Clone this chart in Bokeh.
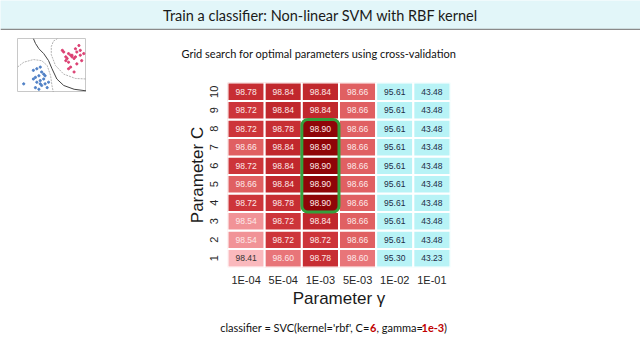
import numpy as np
from bokeh.plotting import figure
from bokeh.models import ColumnDataSource, LinearColorMapper, FixedTicker, Range1d, Spacer, LinearAxis
from bokeh.layouts import column, row
from bokeh.core.properties import value
from bokeh.embed import file_html
from bokeh.resources import INLINE

# ---------------- data ----------------
title_text = "Train a classifier: Non-linear SVM with RBF kernel"
subtitle_text = "Grid search for optimal parameters using cross-validation"
gamma_labels = ["1E-04", "5E-04", "1E-03", "5E-03", "1E-02", "1E-01"]
C_values = [1, 2, 3, 4, 5, 6, 7, 8, 9, 10]

acc_C01 = [98.41, 98.60, 98.78, 98.60, 95.30, 43.23]
acc_C02 = [98.54, 98.72, 98.72, 98.66, 95.61, 43.48]
acc_C03 = [98.54, 98.72, 98.84, 98.66, 95.61, 43.48]
acc_C04 = [98.72, 98.78, 98.90, 98.66, 95.61, 43.48]
acc_C05 = [98.66, 98.84, 98.90, 98.66, 95.61, 43.48]
acc_C06 = [98.72, 98.84, 98.90, 98.66, 95.61, 43.48]
acc_C07 = [98.66, 98.84, 98.90, 98.66, 95.61, 43.48]
acc_C08 = [98.72, 98.78, 98.90, 98.66, 95.61, 43.48]
acc_C09 = [98.72, 98.84, 98.84, 98.66, 95.61, 43.48]
acc_C10 = [98.78, 98.84, 98.84, 98.66, 95.61, 43.48]
acc_rows = [acc_C01, acc_C02, acc_C03, acc_C04, acc_C05,
            acc_C06, acc_C07, acc_C08, acc_C09, acc_C10]

# thumbnail (decision-boundary sketch), unit square coordinates
red_x = [0.65, 0.67, 0.74, 0.77, 0.79, 0.82, 0.72, 0.70, 0.74, 0.84, 0.86, 0.89,
         0.91, 0.93, 0.86, 0.77, 0.74, 0.70, 0.79, 0.84, 0.91, 0.96, 0.82]
red_y = [0.78, 0.75, 0.72, 0.69, 0.66, 0.63, 0.63, 0.59, 0.56, 0.81, 0.75, 0.87,
         0.69, 0.59, 0.53, 0.47, 0.44, 0.66, 0.69, 0.66, 0.78, 0.72, 0.38]
blue_x = [0.23, 0.28, 0.33, 0.35, 0.31, 0.26, 0.38, 0.33, 0.28, 0.40, 0.35, 0.43,
          0.31, 0.23, 0.38, 0.45, 0.09, 0.26, 0.40, 0.33]
blue_y = [0.41, 0.44, 0.47, 0.38, 0.31, 0.28, 0.25, 0.22, 0.19, 0.16, 0.13, 0.09,
          0.06, 0.25, 0.34, 0.19, 0.16, 0.09, 0.31, 0.16]
boundary_x = [0.23, 0.26, 0.31, 0.38, 0.45, 0.50, 0.57, 0.67, 0.82, 1.00]
boundary_y = [1.00, 0.91, 0.81, 0.72, 0.59, 0.44, 0.25, 0.13, 0.06, 0.03]
contour_red_x = [0.58, 0.52, 0.49, 0.49, 0.55, 0.67, 0.84, 1.00]
contour_red_y = [1.00, 0.95, 0.85, 0.70, 0.50, 0.34, 0.26, 0.25]
contour_blue_x = [0.00, 0.09, 0.23, 0.35, 0.43, 0.48, 0.50, 0.52]
contour_blue_y = [0.47, 0.56, 0.61, 0.59, 0.50, 0.31, 0.125, 0.00]

formula_parts = ["classifier = SVC(kernel='rbf', C=", "6", ", gamma=", "1e-3", ")"]

# ---------------- styling ----------------
CYAN = "#b8f3f6"
GREEN = "#34a03c"
stop_vals = [98.40, 98.54, 98.60, 98.66, 98.72, 98.78, 98.84, 98.90]
stop_cols = ["#fbbcc0", "#f19397", "#e87579", "#e06062", "#cd353a", "#c72e33", "#c1282d", "#8f0508"]


def hex2rgb(h):
    return np.array([int(h[i:i + 2], 16) for i in (1, 3, 5)], dtype=float)


grid = np.linspace(stop_vals[0], stop_vals[-1], 101)
rgb = np.array([hex2rgb(c) for c in stop_cols])
palette = []
for g in grid:
    r = np.interp(g, stop_vals, rgb[:, 0])
    gg = np.interp(g, stop_vals, rgb[:, 1])
    b = np.interp(g, stop_vals, rgb[:, 2])
    palette.append("#%02x%02x%02x" % (int(round(r)), int(round(gg)), int(round(b))))
mapper = LinearColorMapper(palette=palette, low=stop_vals[0], high=stop_vals[-1] + 0.001, low_color=CYAN)


def bare_fig(w, h, xr, yr):
    f = figure(width=w, height=h, x_range=xr, y_range=yr, output_backend="svg",
               toolbar_location=None, x_axis_location=None, y_axis_location=None,
               min_border=0)
    f.grid.visible = False
    f.outline_line_color = None
    return f


# ---------------- title bar ----------------
tf = bare_fig(640, 30, Range1d(0, 640), Range1d(30, 0))
tf.background_fill_color = "#e2f6f9"
tf.border_fill_color = "#e2f6f9"
tf.segment(x0=[0], y0=[29], x1=[640], y1=[29], line_color="#8a8a8a", line_width=1.5)
tf.text(x=[320], y=[15], text=[title_text], text_align="center", text_baseline="middle",
        text_font=value("Lato"), text_font_size="14.5px", text_color="#1a1a1a")

# ---------------- thumbnail ----------------
th = figure(width=69, height=54, x_range=Range1d(0, 1), y_range=Range1d(0, 1),
            output_backend="svg", toolbar_location=None, x_axis_location=None,
            y_axis_location=None, min_border=0)
th.grid.visible = False
th.outline_line_color = "#c8c8c8"
th.line(boundary_x, boundary_y, line_color="#444444", line_width=1)
th.line(contour_red_x, contour_red_y, line_color="#a0a0a0", line_width=0.8, line_dash="2 1")
th.line(contour_blue_x, contour_blue_y, line_color="#a0a0a0", line_width=0.8, line_dash="2 1")
th.scatter(red_x, red_y, size=2.2, color="#dc3f72")
th.scatter(blue_x, blue_y, size=2.2, color="#4f80c6")
thumb_col = column(Spacer(width=86, height=8), row(Spacer(width=17, height=54), th))

# ---------------- heatmap ----------------
xs, ys, vals, labels, tcols = [], [], [], [], []
for ci, rowvals in zip(C_values, acc_rows):
    for gi, v in enumerate(rowvals):
        xs.append(gi)
        ys.append(ci)
        vals.append(v)
        labels.append("%.2f" % v)
        if v >= 98.5:
            tcols.append("#fde9e9")
        elif v >= 98.0:
            tcols.append("#333333")
        else:
            tcols.append("#1c2b45")
src = ColumnDataSource(dict(x=xs, y=ys, v=vals, label=labels, tcol=tcols))

mf = figure(width=554, height=290, x_range=Range1d(-0.5, len(gamma_labels) - 0.5),
            y_range=Range1d(C_values[0] - 0.5, C_values[-1] + 0.5),
            output_backend="svg", toolbar_location=None,
            min_border_left=141, min_border_right=190, min_border_top=52, min_border_bottom=53)
mf.grid.visible = False
mf.outline_line_color = None

xax = mf.below[0]
yax = mf.left[0]

# invisible spacer axis above the frame (one hidden tick, empty label) to lift the subtitle
spacer_axis = LinearAxis(ticker=FixedTicker(ticks=[0]), major_label_overrides={0: ""},
                         axis_line_color=None, major_tick_line_color=None,
                         minor_tick_line_color=None, major_tick_in=0, major_tick_out=18,
                         major_label_standoff=0, major_label_text_font_size="1px")
mf.add_layout(spacer_axis, "above")

mf.title.text = subtitle_text
mf.title.align = "left"
mf.title.offset = -46
mf.title.text_font = "Lato"
mf.title.text_font_size = "11px"
mf.title.text_font_style = "normal"
mf.title.text_color = "#111111"

mf.rect(x="x", y="y", width=1, height=1, source=src,
        fill_color={"field": "v", "transform": mapper}, line_color="white", line_width=2)
mf.text(x="x", y="y", text="label", source=src, text_align="center", text_baseline="middle",
        text_font=value("Liberation Sans"), text_font_size="8.5px", text_color="tcol")

best = max(vals)
bx = [x for x, v in zip(xs, vals) if v == best]
by = [y for y, v in zip(ys, vals) if v == best]
mf.quad(left=[min(bx) - 0.5], right=[max(bx) + 0.5], bottom=[min(by) - 0.5], top=[max(by) + 0.5],
        fill_color=None, line_color=GREEN, line_width=3, border_radius=6)

xax.ticker = FixedTicker(ticks=list(range(len(gamma_labels))))
xax.major_label_overrides = {i: lab for i, lab in enumerate(gamma_labels)}
yax.ticker = FixedTicker(ticks=C_values)
yax.major_label_orientation = "vertical"
for ax in (xax, yax):
    ax.axis_line_color = None
    ax.major_tick_line_color = None
    ax.minor_tick_line_color = None
    ax.major_label_text_font = "Liberation Sans"
    ax.major_label_text_font_size = "11px"
    ax.major_label_text_color = "#262626"
    ax.axis_label_text_font = "Liberation Sans"
    ax.axis_label_text_font_size = "17px"
    ax.axis_label_text_font_style = "normal"
    ax.axis_label_text_color = "#1a1a1a"
xax.axis_label = "Parameter γ"
yax.axis_label = "Parameter C"
xax.major_label_standoff = 0
xax.axis_label_standoff = 0
yax.major_label_standoff = 4
yax.axis_label_standoff = 0

# ---------------- formula ----------------
ff = bare_fig(640, 40, Range1d(0, 640), Range1d(360, 320))
fy = 327
common = dict(text_baseline="middle", text_font=value("Lato"), text_font_size="11px")
ff.text(x=[369], y=[fy], text=[formula_parts[0]], text_align="right", text_color="#111111", **common)
ff.text(x=[369.5], y=[fy], text=[formula_parts[1]], text_align="left", text_color="#c00000",
        text_font_style="bold", **common)
ff.text(x=[376], y=[fy], text=[formula_parts[2]], text_align="left", text_color="#111111", **common)
ff.text(x=[421], y=[fy], text=[formula_parts[3]], text_align="left", text_color="#c00000",
        text_font_style="bold", **common)
ff.text(x=[443.5], y=[fy], text=[formula_parts[4]], text_align="left", text_color="#111111", **common)

layout = column(tf, row(thumb_col, mf), ff)

open("out.html", "w").write(file_html(layout, INLINE))
